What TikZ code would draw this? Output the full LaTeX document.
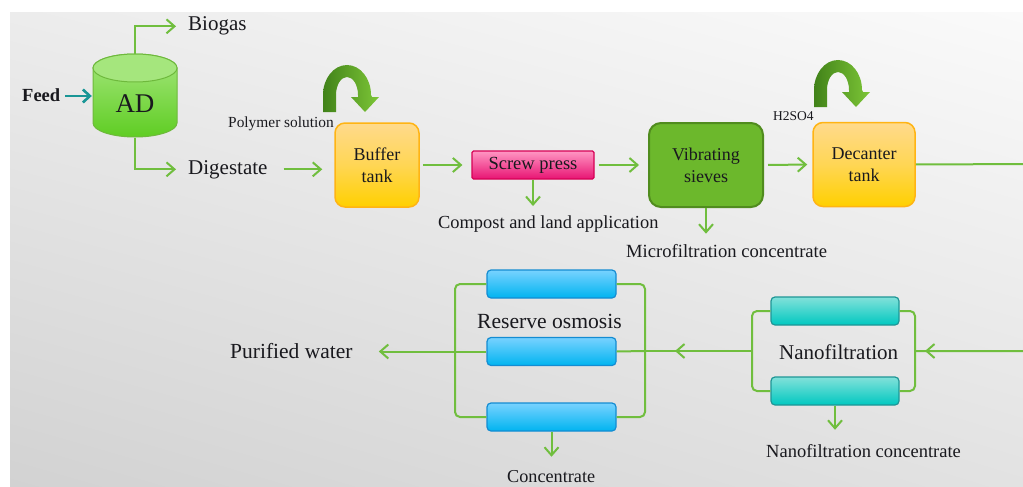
\documentclass[tikz,border=0pt]{standalone}
\usepackage{fontspec}
\setmainfont{Liberation Serif}
\usetikzlibrary{arrows.meta,decorations.markings,shadings}

\definecolor{ink}{RGB}{25,25,30}
\definecolor{flowgreen}{RGB}{112,190,62}
\definecolor{feedteal}{RGB}{25,150,150}
\definecolor{tanktop}{RGB}{255,218,140}
\definecolor{tankbot}{RGB}{255,208,0}
\definecolor{tankline}{RGB}{255,180,20}
\definecolor{presstop}{RGB}{255,150,195}
\definecolor{pressbot}{RGB}{232,20,115}
\definecolor{pressline}{RGB}{215,0,85}
\definecolor{sievefill}{RGB}{108,184,44}
\definecolor{sieveline}{RGB}{80,140,30}
\definecolor{nftop}{RGB}{130,225,218}
\definecolor{nfbot}{RGB}{0,200,192}
\definecolor{nfline}{RGB}{30,150,150}
\definecolor{rotop}{RGB}{120,210,255}
\definecolor{robot}{RGB}{0,180,240}
\definecolor{roline}{RGB}{20,140,210}
\definecolor{adtop}{RGB}{165,230,125}
\definecolor{adbot}{RGB}{95,205,35}
\definecolor{adline}{RGB}{110,185,60}
\definecolor{turndark}{RGB}{65,130,25}
\definecolor{turnlight}{RGB}{125,198,55}
\definecolor{bgUL}{RGB}{236,236,236}
\definecolor{bgUR}{RGB}{250,250,250}
\definecolor{bgLL}{RGB}{210,210,210}
\definecolor{bgLR}{RGB}{226,226,226}

\begin{document}
\begin{tikzpicture}[x=1pt,y=-1pt,
  lbl/.style={inner sep=0pt, text=ink, anchor=base west},
  pipe/.style={draw=flowgreen, line width=2pt},
  flow/.style={pipe, -{Straight Barb[length=8pt,width=14pt]}},
  midhead/.style={postaction=decorate, decoration={markings,
      mark=at position #1 with {\arrow[flowgreen, line width=2pt]{Straight Barb[length=8pt,width=14pt]}}}},
  tankbox/.style={rounded corners=10pt, top color=tanktop, bottom color=tankbot,
      middle color=tanktop!60!tankbot, draw=tankline, line width=1.5pt,
      minimum height=84pt, align=center, text=ink,
      font=\fontsize{18}{22}\selectfont},
  pressbox/.style={rounded corners=1.5pt, top color=presstop, bottom color=pressbot,
      draw=pressline, line width=1.2pt, minimum width=122pt, minimum height=28pt,
      text=ink, font=\fontsize{18.5}{22}\selectfont},
  sievebox/.style={rounded corners=12pt, fill=sievefill, draw=sieveline, line width=2pt,
      minimum width=114pt, minimum height=84pt, align=center, text=ink,
      font=\fontsize{18}{22}\selectfont},
  nfmodule/.style={rounded corners=4pt, top color=nftop, bottom color=nfbot,
      draw=nfline, line width=1.2pt, minimum width=128pt, minimum height=28pt},
  romodule/.style={rounded corners=4pt, top color=rotop, bottom color=robot,
      draw=roline, line width=1.2pt, minimum width=129pt, minimum height=28pt},
  turn/.pic={
    \shade[left color=turndark, right color=turnlight]
      (-24,17) -- (-24,0) arc[start angle=180, end angle=360, x radius=24, y radius=30]
      -- (25,2) -- (32,2) -- (18,17) -- (4,2) -- (11,2) -- (11,0)
      arc[start angle=0, end angle=-180, x radius=11, y radius=18]
      -- (-11,17) -- cycle;
  }
]
% page and shaded panel
\clip (0,0) rectangle (1023,487);
\fill[white] (0,0) rectangle (1023,487);
\shade[upper left=bgUL, upper right=bgUR, lower left=bgLL, lower right=bgLR]
  (10,13) rectangle (1023,487);

% anaerobic digester drawn as a cylinder
\shade[top color=adtop, bottom color=adbot, draw=adline, line width=1pt]
  (93,68) -- (93,123) arc[start angle=180, end angle=0, x radius=42, y radius=14]
  -- (177,68) arc[start angle=0, end angle=-180, x radius=42, y radius=14] -- cycle;
\draw[fill=adtop, draw=adline, line width=1pt] (135,68) ellipse[x radius=42, y radius=14];
\node[inner sep=0pt, minimum width=84pt, minimum height=84pt] (AD) at (135,96) {};
\node[inner sep=0pt, text=ink, anchor=base, font=\fontsize{27}{30}\selectfont] (adlabel) at (135,113) {AD};

% labels
\node[lbl, font=\fontsize{18.5}{22}\selectfont\bfseries] (feed) at (22,101) {Feed};
\node[lbl, font=\fontsize{21}{24}\selectfont] (biogas) at (188,31) {Biogas};
\node[lbl, font=\fontsize{21}{24}\selectfont] (digestate) at (188,174) {Digestate};
\node[lbl, font=\fontsize{15.4}{18}\selectfont] (polymer) at (228,127) {Polymer solution};
\node[lbl, font=\fontsize{13.5}{16}\selectfont] (acid) at (773,120) {H2SO4};
\node[lbl, font=\fontsize{18.4}{22}\selectfont] (compost) at (438,228) {Compost and land application};
\node[lbl, font=\fontsize{18.6}{22}\selectfont] (micro) at (626,257) {Microfiltration concentrate};
\node[lbl, font=\fontsize{21.5}{25}\selectfont] (purified) at (230,358) {Purified water};
\node[lbl, font=\fontsize{21.6}{25}\selectfont] (rolabel) at (477,328) {Reserve osmosis};
\node[lbl, font=\fontsize{18.2}{22}\selectfont] (conc) at (507,482) {Concentrate};
\node[lbl, font=\fontsize{21}{25}\selectfont] (nflabel) at (779,359) {Nanofiltration};
\node[lbl, font=\fontsize{18.5}{22}\selectfont] (nfconc) at (766,457) {Nanofiltration concentrate};

% process units
\node[tankbox, minimum width=84pt] (buffer) at (377,165) {Buffer\\tank};
\node[pressbox] (press) at (533,165) {Screw press};
\node[sievebox] (sieves) at (706,165) {Vibrating\\sieves};
\node[tankbox, minimum width=102pt] (decanter) at (864,164.5) {Decanter\\tank};

% dosing arrows
\pic at (347,95) {turn};
\pic at (838,90) {turn};

% membrane modules
\node[nfmodule] (nf1) at (835,311) {};
\node[nfmodule] (nf2) at (835,391) {};
\node[romodule] (ro1) at (551.5,284) {};
\node[romodule] (ro2) at (551.5,351.5) {};
\node[romodule] (ro3) at (551.5,417) {};

\coordinate (nfL) at (752,351);
\coordinate (nfR) at (915,351);
\coordinate (roL) at (455,351);
\coordinate (roR) at (645,351);
\coordinate (e1) at (1030,164);
\coordinate (e2) at (1030,351);

% upper line
\draw[feedteal, line width=2.6pt, -{Straight Barb[length=7pt,width=13pt]},
      shorten <=5pt, shorten >=1pt] (feed.east |- AD.west) -- (AD.west);
\draw[flow, shorten >=12pt] (AD.north) |- (biogas.west);
\draw[flow, shorten >=12pt] (AD.south) |- (digestate.west);
\draw[flow, shorten <=16pt, shorten >=12pt] (digestate.east) -- (digestate.east -| buffer.west);
\draw[flow, shorten <=3pt, shorten >=9pt] (buffer.east) -- (press.west);
\draw[flow, shorten >=9pt] (press.south) -- (press.south |- compost.north);
\draw[flow, shorten <=4pt, shorten >=9pt] (press.east) -- (sieves.west);
\draw[flow, shorten >=10pt] (sieves.south) -- (sieves.south |- micro.north);
\draw[flow, shorten <=4pt, shorten >=5pt] (sieves.east) -- (decanter.west);
\draw[pipe, midhead=-10pt] (decanter.east) -- (e1) -- (e2) -- (nfR);

% nanofiltration manifolds
\draw[pipe, rounded corners=5pt] (nf1.east) -| (nfR) |- (nf2.east);
\draw[pipe, rounded corners=5pt] (nf1.west) -| (nfL) |- (nf2.west);
\draw[flow, shorten >=14pt] (nf2.south) -- (nf2.south |- nfconc.north);
\draw[pipe, midhead=-30pt] (nfL) -- (roR);

% reverse osmosis manifolds
\draw[pipe, rounded corners=5pt] (ro1.east) -| (roR) |- (ro3.east);
\draw[pipe] (ro2.east) -- (roR);
\draw[pipe, rounded corners=5pt] (ro1.west) -| (roL) |- (ro3.west);
\draw[flow, shorten >=26pt] (ro2.west) -- (ro2.west -| purified.east);
\draw[flow, shorten >=13pt] (ro3.south) -- (ro3.south |- conc.north);
\end{tikzpicture}
\end{document}
